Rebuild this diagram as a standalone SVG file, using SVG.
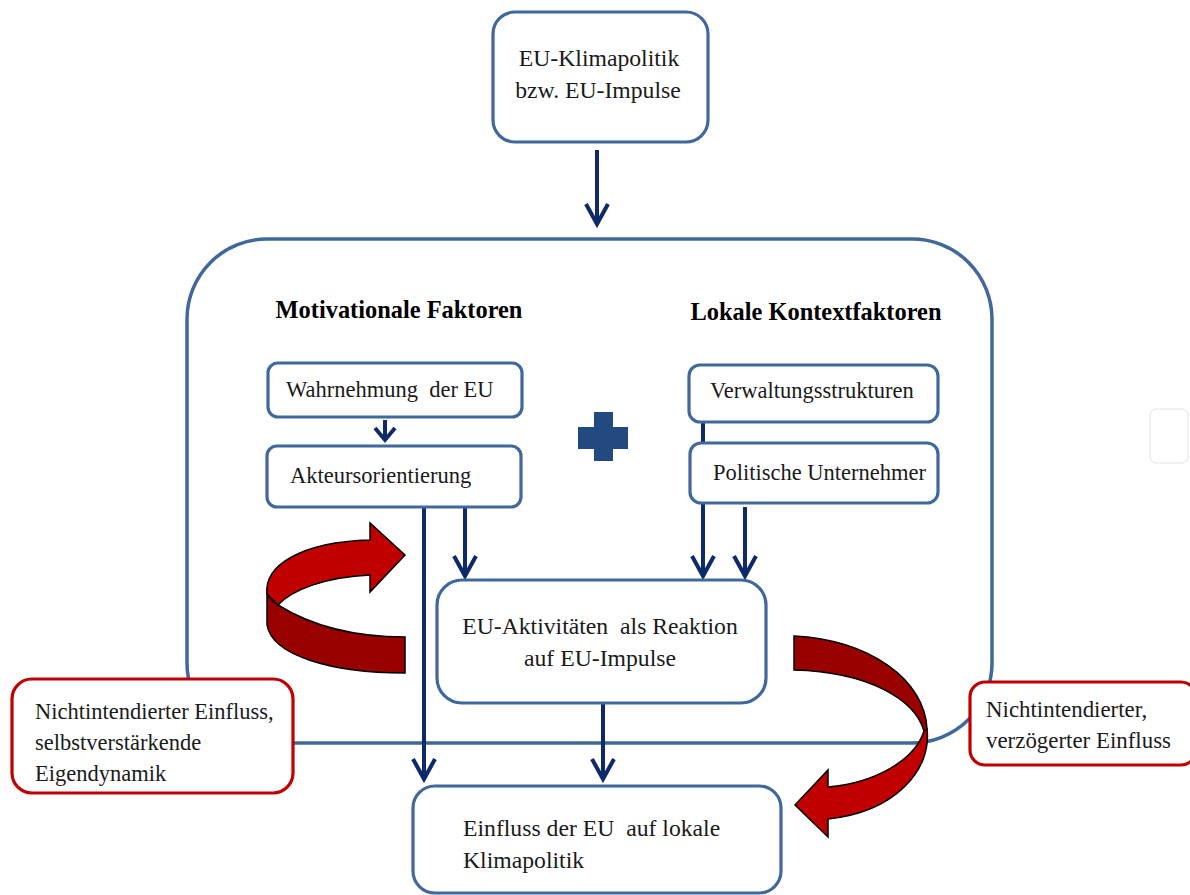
<svg xmlns="http://www.w3.org/2000/svg" width="1190" height="895" viewBox="0 0 1190 895">
<style>
.box{fill:#fff;stroke:#41689b;stroke-width:3.2}
.rbox{fill:#fff;stroke:#c00000;stroke-width:3.2}
.t{font-family:"Liberation Serif","Times New Roman",serif;font-size:22.5px;fill:#1a1a1a;white-space:pre}
.lg{font-size:23.7px}
.b{font-family:"Liberation Serif","Times New Roman",serif;font-size:24.4px;font-weight:bold;fill:#000}
.c{text-anchor:middle}
.ln{stroke:#0e2a68;stroke-width:4;fill:none}
.rib{stroke:#000;stroke-width:1.5;stroke-linejoin:miter}
</style>
<defs>
<marker id="ah" markerUnits="userSpaceOnUse" viewBox="-24 -14 28 28" refX="0" refY="0" markerWidth="28" markerHeight="28" orient="auto" overflow="visible">
<path d="M-20,-11 L0,0 L-20,11" fill="none" stroke="#0e2a68" stroke-width="4"/>
</marker>
<marker id="ahs" markerUnits="userSpaceOnUse" viewBox="-16 -14 20 28" refX="0" refY="0" markerWidth="20" markerHeight="28" orient="auto" overflow="visible">
<path d="M-12,-10 L0,0 L-12,10" fill="none" stroke="#0e2a68" stroke-width="4"/>
</marker>
</defs>
<rect width="1190" height="895" fill="#fff"/>

<g id="container">
<rect x="187" y="239" width="805" height="504" rx="80" ry="80" fill="none" stroke="#41689b" stroke-width="3.5"/>
</g>

<g id="faint-box">
<rect x="1150" y="409" width="38" height="54" rx="6" fill="#fff" stroke="#e2e2e2" stroke-width="1"/>
</g>

<g id="plus">
<path d="M594,412 H613 V427 H628 V449 H613 V461 H594 V449 H578 V427 H594 Z" fill="#234a80"/>
</g>

<g id="connectors">
<line class="ln" x1="597" y1="150" x2="597" y2="224" marker-end="url(#ah)"/>
<line class="ln" x1="385" y1="420" x2="385" y2="440" marker-end="url(#ahs)"/>
<line class="ln" x1="703" y1="421" x2="703" y2="443"/>
<line class="ln" x1="424" y1="507" x2="424" y2="779" marker-end="url(#ah)"/>
<line class="ln" x1="465" y1="507" x2="465" y2="576" marker-end="url(#ah)"/>
<line class="ln" x1="703" y1="503" x2="703" y2="576" marker-end="url(#ah)"/>
<line class="ln" x1="745" y1="507" x2="745" y2="576" marker-end="url(#ah)"/>
<line class="ln" x1="603" y1="703" x2="603" y2="779" marker-end="url(#ah)"/>
</g>

<g id="loop-arrow-left">
<path class="rib" fill="#990000" d="M278,605 C310,625 350,637 405,637 L405,673 C330,673 272,655 267,625 L267,593 C269,598 273,602 278,605 Z"/>
<path class="rib" fill="#c00000" d="M267,594 C264,566 300,542 370,540 L370,523 L405,555 L370,592 L370,575 C325,577 292,590 278,605 Z"/>
</g>

<g id="loop-arrow-right">
<path class="rib" fill="#990000" d="M794,636 C870,640 925,680 927,729 L924,731 C915,700 870,672 794,670 Z"/>
<path class="rib" fill="#c00000" d="M927,729 C932,770 895,812 828,819 L828,837 L795,805 L828,770 L828,787 C875,783 915,760 924,731 Z"/>
</g>

<g id="node-eu-klimapolitik">
<rect class="box" x="493" y="12" width="215" height="130" rx="22"/>
<text class="t lg c" x="599" y="66">EU-Klimapolitik</text>
<text class="t lg c" x="598" y="98">bzw. EU-Impulse</text>
</g>

<g id="heading-motivational">
<text class="b c" x="399" y="318">Motivationale Faktoren</text>
</g>
<g id="heading-kontext">
<text class="b c" x="816" y="320">Lokale Kontextfaktoren</text>
</g>

<g id="node-wahrnehmung">
<rect class="box" x="268" y="363" width="254" height="54" rx="10"/>
<text class="t" x="286" y="397">Wahrnehmung  der EU</text>
</g>

<g id="node-akteursorientierung">
<rect class="box" x="267" y="446" width="254" height="61" rx="10"/>
<text class="t" x="290" y="483">Akteursorientierung</text>
</g>

<g id="node-verwaltung">
<rect class="box" x="689" y="365" width="249" height="57" rx="11"/>
<text class="t" x="710" y="398">Verwaltungsstrukturen</text>
</g>

<g id="node-politische">
<rect class="box" x="690" y="443" width="248" height="60" rx="11"/>
<text class="t" x="713" y="480">Politische Unternehmer</text>
</g>

<g id="node-eu-aktivitaeten">
<rect class="box" x="437" y="580" width="329" height="123" rx="25"/>
<text class="t lg c" x="600" y="634">EU-Aktivitäten  als Reaktion</text>
<text class="t lg c" x="600" y="666">auf EU-Impulse</text>
</g>

<g id="node-einfluss">
<rect class="box" x="413" y="786" width="368" height="107" rx="22"/>
<text class="t lg" x="463" y="836">Einfluss der EU  auf lokale</text>
<text class="t lg" x="463" y="868">Klimapolitik</text>
</g>

<g id="node-nichtintendiert-links">
<rect class="rbox" x="12" y="679" width="281" height="114" rx="20"/>
<text class="t" x="35" y="719">Nichtintendierter Einfluss,</text>
<text class="t" x="35" y="750">selbstverstärkende</text>
<text class="t" x="35" y="781">Eigendynamik</text>
</g>

<g id="node-nichtintendiert-rechts">
<rect class="rbox" x="970" y="682" width="226" height="83" rx="15"/>
<text class="t" x="986" y="717" style="font-size:22.9px">Nichtintendierter,</text>
<text class="t" x="986" y="748" style="font-size:22.9px">verzögerter Einfluss</text>
</g>
</svg>
